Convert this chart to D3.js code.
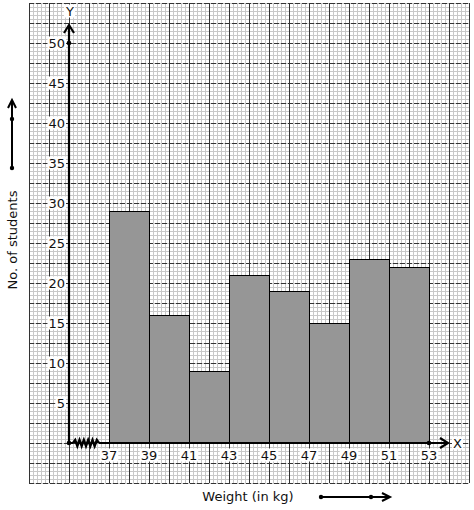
<!DOCTYPE html>
<html>
<head>
<meta charset="utf-8">
<script src="https://cdnjs.cloudflare.com/ajax/libs/d3/7.8.5/d3.min.js"></script>
<style>
  body { margin: 0; background: #fff; }
  svg { display: block; font-family: "DejaVu Sans", sans-serif; }
</style>
</head>
<body>
<svg id="chart"></svg>
<script>
// Histogram data: weight classes (kg) and number of students
const binStarts = [37, 39, 41, 43, 45, 47, 49, 51];
const binWidth = 2;
const counts = [29, 16, 9, 21, 19, 15, 23, 22];
const xTickLabels = [37, 39, 41, 43, 45, 47, 49, 51, 53];
const yTickLabels = [5, 10, 15, 20, 25, 30, 35, 40, 45, 50];

const width = 474, height = 510;

const svg = d3.select("#chart").attr("width", width).attr("height", height);

// 1 kg = 20px, 2.5 students = 20px; axis origin sits at 35 kg
const x = d3.scaleLinear().domain([35, 53]).range([69, 429]);
const y = d3.scaleLinear().domain([0, 50]).range([443, 43]);

const gx0 = 33, gx1 = 55;   // graph paper extent in kg
const gy0 = -5, gy1 = 55;   // graph paper extent in students

// graph paper: minor lines
const grid = svg.append("g");
const minorX = d3.range(0, (gx1 - gx0) * 5 + 1).map(i => gx0 + i * 0.2);
const minorY = d3.range(0, (gy1 - gy0) * 2 + 1).map(i => gy0 + i * 0.5);
grid.selectAll(".mx").data(minorX).join("line")
  .attr("x1", d => Math.round(x(d)) + 0.5).attr("x2", d => Math.round(x(d)) + 0.5)
  .attr("y1", y(gy0)).attr("y2", y(gy1))
  .attr("stroke", "#c8c8c8").attr("stroke-width", 1);
grid.selectAll(".my").data(minorY).join("line")
  .attr("x1", x(gx0)).attr("x2", x(gx1))
  .attr("y1", d => Math.round(y(d)) + 0.5).attr("y2", d => Math.round(y(d)) + 0.5)
  .attr("stroke", "#c8c8c8").attr("stroke-width", 1);

// major lines: vertical solid, horizontal dashed
const majorX = d3.range(gx0, gx1 + 1);
const majorY = d3.range(0, 25).map(i => gy0 + i * 2.5);
grid.selectAll(".Mx").data(majorX).join("line")
  .attr("x1", d => x(d) + 0.5).attr("x2", d => x(d) + 0.5)
  .attr("y1", y(gy0)).attr("y2", y(gy1))
  .attr("stroke", "#333").attr("stroke-width", 1);
grid.selectAll(".My").data(majorY).join("line")
  .attr("x1", x(gx0)).attr("x2", x(gx1))
  .attr("y1", d => y(d) + 0.5).attr("y2", d => y(d) + 0.5)
  .attr("stroke", "#333").attr("stroke-width", 1)
  .attr("stroke-dasharray", "5,2");

// bars
svg.append("g").selectAll("rect").data(binStarts).join("rect")
  .attr("x", d => x(d) + 0.5)
  .attr("y", (d, i) => y(counts[i]) + 0.5)
  .attr("width", x(binStarts[0] + binWidth) - x(binStarts[0]))
  .attr("height", (d, i) => y(0) - y(counts[i]))
  .attr("fill", "#969696")
  .attr("stroke", "#000")
  .attr("stroke-width", 1);

// label with white backing box
function label(g, txt, px, py, anchor) {
  const t = g.append("text")
    .attr("x", px).attr("y", py)
    .attr("text-anchor", anchor || "middle")
    .attr("dominant-baseline", "central")
    .attr("font-size", 13)
    .attr("fill", "#111")
    .text(txt);
  const b = t.node().getBBox();
  g.insert("rect", () => t.node())
    .attr("x", b.x - 1).attr("y", b.y + 1)
    .attr("width", b.width + 2).attr("height", b.height - 2)
    .attr("fill", "#fff");
  return t;
}

const labels = svg.append("g");
yTickLabels.forEach(v => label(labels, v, x(35) - 4, y(v), "end"));
xTickLabels.forEach(v => label(labels, v, x(v), y(0) + 12, "middle"));
label(labels, "Y", x(35) + 1, 11, "middle");
label(labels, "X", 453, y(0), "start");

// axes
const axes = svg.append("g").attr("stroke", "#000").attr("fill", "none");
axes.append("line")
  .attr("x1", x(35)).attr("x2", x(35))
  .attr("y1", y(0)).attr("y2", 25)
  .attr("stroke-width", 2.2);
axes.append("path")
  .attr("d", `M${x(35) - 5},${33} L${x(35)},${25} L${x(35) + 5},${33}`)
  .attr("stroke-width", 2.2);

// x axis with break (zigzag) near the origin
const zx0 = x(35.2), zx1 = x(36.5);
axes.append("line")
  .attr("x1", x(35)).attr("x2", zx0)
  .attr("y1", y(0)).attr("y2", y(0)).attr("stroke-width", 2);
const zz = [[zx0, y(0)]];
const n = 12;
for (let i = 1; i < n; i++) {
  zz.push([zx0 + (zx1 - zx0) * i / n, y(0) + (i % 2 ? -3 : 3)]);
}
zz.push([zx1, y(0)]);
axes.append("path").attr("d", d3.line()(zz)).attr("stroke-width", 2.4);
axes.append("line")
  .attr("x1", zx1).attr("x2", 447)
  .attr("y1", y(0)).attr("y2", y(0)).attr("stroke-width", 2);
axes.append("path")
  .attr("d", `M${440},${y(0) - 5} L${448},${y(0)} L${440},${y(0) + 5}`)
  .attr("stroke-width", 2.2);

// dots on axes
const dots = [[x(35), y(0)], [x(35), y(50)], [x(53), y(0)]];
svg.append("g").selectAll("circle").data(dots).join("circle")
  .attr("cx", d => d[0]).attr("cy", d => d[1]).attr("r", 2.3).attr("fill", "#000");

// axis titles
svg.append("text")
  .attr("transform", "translate(17,240) rotate(-90)")
  .attr("text-anchor", "middle")
  .attr("font-size", 13)
  .attr("fill", "#111")
  .text("No. of students");
svg.append("text")
  .attr("x", 248).attr("y", 501)
  .attr("text-anchor", "middle")
  .attr("font-size", 13)
  .attr("fill", "#111")
  .text("Weight (in kg)");

// direction arrows next to titles
const arr = svg.append("g").attr("stroke", "#000").attr("fill", "none").attr("stroke-width", 2);
arr.append("line").attr("x1", 12).attr("x2", 12).attr("y1", 168).attr("y2", 101);
arr.append("path").attr("d", "M8,108 L12,100 L16,108");
arr.append("line").attr("x1", 321).attr("x2", 389).attr("y1", 497).attr("y2", 497);
arr.append("path").attr("d", "M382,493 L390,497 L382,501");
svg.append("g").selectAll("circle").data([[12, 168], [12, 119], [321, 497], [371, 497]]).join("circle")
  .attr("cx", d => d[0]).attr("cy", d => d[1]).attr("r", 2.2).attr("fill", "#000");
</script>
</body>
</html>
